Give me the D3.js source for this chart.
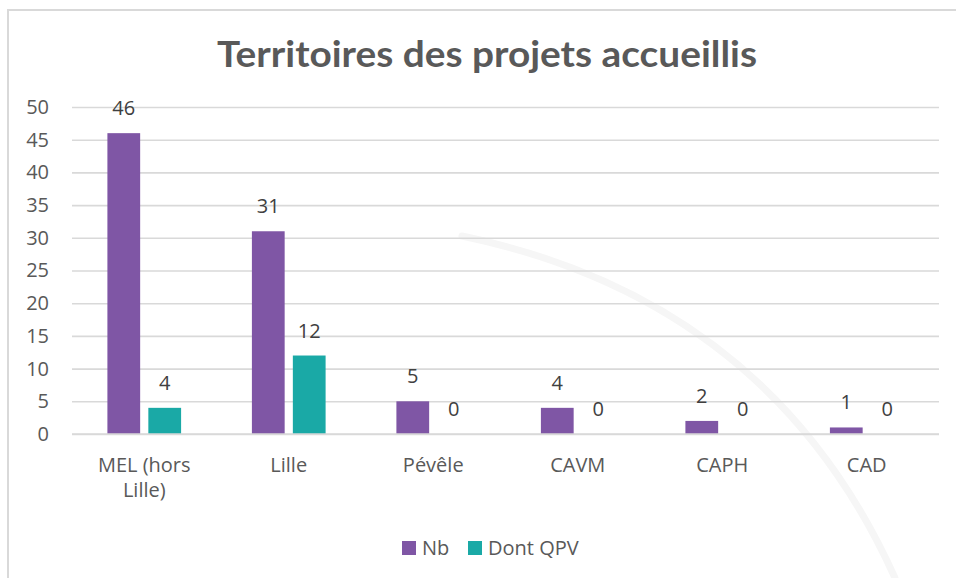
<!DOCTYPE html>
<html>
<head>
<meta charset="utf-8">
<script src="https://cdn.jsdelivr.net/npm/d3@7"></script>
<style>
  html, body { margin: 0; padding: 0; background: #fff; }
  svg { display: block; }
</style>
</head>
<body>
<div id="chart"></div>
<script>
  // Données
  var categories = ["MEL (hors Lille)", "Lille", "Pévêle", "CAVM", "CAPH", "CAD"];
  var categoryLines = [["MEL (hors", "Lille)"], ["Lille"], ["Pévêle"], ["CAVM"], ["CAPH"], ["CAD"]];
  var seriesNames = ["Nb", "Dont QPV"];
  var nbValues = [46, 31, 5, 4, 2, 1];
  var qpvValues = [4, 12, 0, 0, 0, 0];
  var yTicks = [0, 5, 10, 15, 20, 25, 30, 35, 40, 45, 50];
  var seriesColors = ["#7f56a5", "#1aa9a6"];

  (function () {
    "use strict";

    var width = 956, height = 578;
    var margin = { top: 107, left: 72, right: 17, bottom: 144 };
    var textColor = "#595959";
    var gridColor = "#d9d9d9";
    var fontSize = 20;

    var svg = d3.select("#chart").append("svg")
      .attr("width", width)
      .attr("height", height);

    // cadre
    svg.append("path")
      .attr("d", "M8,578 L8,10 L956,10")
      .attr("fill", "none")
      .attr("stroke", gridColor)
      .attr("stroke-width", 2);

    // filigrane (arc pâle)
    svg.append("path")
      .attr("d", "M462,236 Q770,300 895,578")
      .attr("fill", "none")
      .attr("stroke", "#f6f6f6")
      .attr("stroke-width", 7)
      .attr("stroke-linecap", "round");

    var title = svg.append("text")
      .attr("x", 487)
      .attr("y", 67)
      .attr("text-anchor", "middle")
      .attr("font-family", "Lato, sans-serif")
      .attr("font-weight", 700)
      .attr("font-size", 37)
      .attr("fill", textColor)
      .text("Territoires des projets accueillis");
    var tl = title.node().getComputedTextLength();
    if (tl > 0 && Math.abs(tl - 540) > 4) {
      title.attr("textLength", 540).attr("lengthAdjust", "spacingAndGlyphs");
    }

    var plotW = width - margin.left - margin.right;
    var y = d3.scaleLinear().domain([0, 50]).range([434, 107]);

    var x0 = d3.scaleBand().domain(categories).range([margin.left, margin.left + plotW])
      .paddingInner(0.49).paddingOuter(0.245);
    var x1 = d3.scaleBand().domain(seriesNames).range([0, x0.bandwidth()]).paddingInner(0.2);

    // grille + axe y
    var yAxis = d3.axisLeft(y).tickValues(yTicks).tickSize(-plotW).tickPadding(23);
    var gy = svg.append("g")
      .attr("transform", "translate(" + margin.left + ",0)")
      .call(yAxis);
    gy.select(".domain").remove();
    gy.selectAll(".tick line").attr("stroke", gridColor).attr("stroke-width", 1.6);
    gy.selectAll(".tick text")
      .attr("font-family", "'Open Sans', sans-serif")
      .attr("font-size", fontSize)
      .attr("fill", textColor);

    var rows = categories.map(function (c, i) {
      return { cat: c, values: [nbValues[i], qpvValues[i]] };
    });

    var groups = svg.append("g").selectAll("g")
      .data(rows)
      .join("g")
      .attr("transform", function (d) { return "translate(" + x0(d.cat) + ",0)"; });

    groups.selectAll("rect")
      .data(function (d) { return d.values.map(function (v, j) { return { s: seriesNames[j], v: v, j: j }; }); })
      .join("rect")
      .attr("x", function (d) { return x1(d.s); })
      .attr("y", function (d) { return y(d.v); })
      .attr("width", x1.bandwidth())
      .attr("height", function (d) { return y(0) - y(d.v); })
      .attr("fill", function (d) { return seriesColors[d.j]; });

    groups.selectAll("text.lbl")
      .data(function (d) { return d.values.map(function (v, j) { return { s: seriesNames[j], v: v }; }); })
      .join("text")
      .attr("class", "lbl")
      .attr("x", function (d) { return x1(d.s) + x1.bandwidth() / 2; })
      .attr("y", function (d) { return y(d.v) - 25; })
      .attr("dy", "0.35em")
      .attr("text-anchor", "middle")
      .attr("font-family", "'Open Sans', sans-serif")
      .attr("font-size", fontSize)
      .attr("fill", "#404040")
      .text(function (d) { return d.v; });

    // axe x (baseline redrawn over bars)
    svg.append("line")
      .attr("x1", margin.left).attr("x2", margin.left + plotW)
      .attr("y1", y(0)).attr("y2", y(0))
      .attr("stroke", gridColor).attr("stroke-width", 1.6);

    var catLabels = svg.append("g").selectAll("text")
      .data(categories)
      .join("text")
      .attr("x", function (d) { return x0(d) + x0.bandwidth() / 2; })
      .attr("y", 465)
      .attr("text-anchor", "middle")
      .attr("font-family", "'Open Sans', sans-serif")
      .attr("font-size", fontSize)
      .attr("fill", textColor);
    catLabels.each(function (d, i) {
      var t = d3.select(this);
      categoryLines[i].forEach(function (line, k) {
        t.append("tspan")
          .attr("x", x0(d) + x0.bandwidth() / 2)
          .attr("dy", k === 0 ? "0.35em" : 25)
          .text(line);
      });
    });

    // légende
    var legendX = [402, 468];
    var legend = svg.append("g").selectAll("g")
      .data(seriesNames)
      .join("g")
      .attr("transform", function (d, i) { return "translate(" + legendX[i] + ",541)"; });
    legend.append("rect")
      .attr("width", 14).attr("height", 14)
      .attr("fill", function (d, i) { return seriesColors[i]; });
    legend.append("text")
      .attr("x", 20).attr("y", 7).attr("dy", "0.35em")
      .attr("font-family", "'Open Sans', sans-serif")
      .attr("font-size", fontSize)
      .attr("fill", textColor)
      .text(function (d) { return d; });
  })();
</script>
</body>
</html>
